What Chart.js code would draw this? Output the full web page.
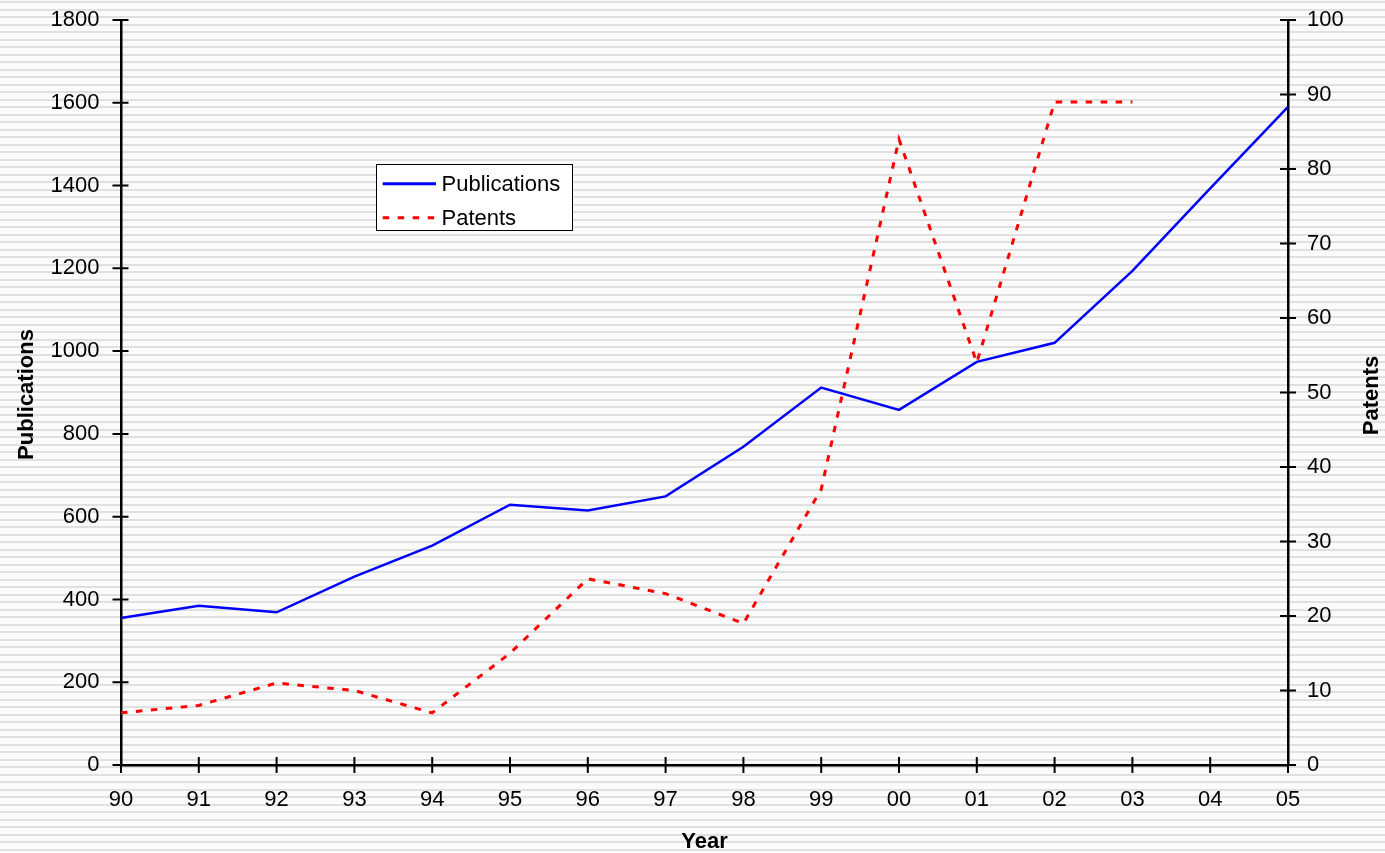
<!DOCTYPE html>
<html>
<head>
<meta charset="utf-8">
<script src="https://cdn.jsdelivr.net/npm/chart.js@4/dist/chart.umd.min.js"></script>
<style>
  html, body {
    margin: 0;
    padding: 0;
    width: 1385px;
    height: 853px;
    overflow: hidden;
    background: repeating-linear-gradient(to bottom,
      #fbfbfb 0px, #fbfbfb 1.3px,
      #e0e0e0 1.3px, #e0e0e0 3.4px,
      #fbfbfb 3.4px, #fbfbfb 7.5px);
  }
  #wrap { position: relative; width: 1385px; height: 853px; }
</style>
</head>
<body>
<div id="wrap"><canvas id="chart"></canvas></div>
<script>
// Yearly counts, 1990 – 2005
const years = ['90', '91', '92', '93', '94', '95', '96', '97', '98', '99', '00', '01', '02', '03', '04', '05'];
const publications = [355, 385, 369, 455, 530, 629, 615, 649, 769, 912, 858, 974, 1020, 1194, 1393, 1590];
const patents = [7, 8, 11, 10, 7, 15, 25, 23, 19, 37, 84, 54, 89, 89, null, null];

// Axis ranges
const pubRange = { min: 0, max: 1800, step: 200 };
const patRange = { min: 0, max: 100, step: 10 };

// Axis titles
const xTitle = 'Year';
const leftTitle = 'Publications';
const rightTitle = 'Patents';

const FONT = '"Liberation Sans", Arial, sans-serif';

// Tick marks that cross the axis line on both sides
const crossTicks = {
  id: 'crossTicks',
  afterDatasetsDraw(chart) {
    const ctx = chart.ctx;
    const { x, yL, yR } = chart.scales;
    ctx.save();
    ctx.strokeStyle = '#000';
    ctx.lineWidth = 2;
    ctx.beginPath();
    x.ticks.forEach((t, i) => {
      const px = x.getPixelForTick(i);
      ctx.moveTo(px, x.top - 8);
      ctx.lineTo(px, x.top + 8);
    });
    yL.ticks.forEach((t, i) => {
      const py = yL.getPixelForTick(i);
      ctx.moveTo(yL.right - 8.5, py);
      ctx.lineTo(yL.right + 7.5, py);
    });
    yR.ticks.forEach((t, i) => {
      const py = yR.getPixelForTick(i);
      ctx.moveTo(yR.left - 8, py);
      ctx.lineTo(yR.left + 8, py);
    });
    ctx.stroke();
    ctx.restore();
  }
};

// Axis titles (the right one reads bottom-to-top like the left one)
const axisTitles = {
  id: 'axisTitles',
  afterDraw(chart) {
    const ctx = chart.ctx;
    const area = chart.chartArea;
    const midY = (area.top + area.bottom) / 2;
    ctx.save();
    ctx.fillStyle = '#000';
    ctx.font = 'bold 22px ' + FONT;
    ctx.textAlign = 'center';
    ctx.textBaseline = 'alphabetic';
    ctx.fillText(xTitle, (area.left + area.right) / 2, 848);

    ctx.save();
    ctx.translate(33, midY + 2);
    ctx.rotate(-Math.PI / 2);
    ctx.fillText(leftTitle, 0, 0);
    ctx.restore();

    ctx.save();
    ctx.translate(1378, midY + 3);
    ctx.rotate(-Math.PI / 2);
    ctx.fillText(rightTitle, 0, 0);
    ctx.restore();
    ctx.restore();
  }
};

// Boxed legend inside the plot
const boxLegend = {
  id: 'boxLegend',
  afterDraw(chart) {
    const ctx = chart.ctx;
    const box = { x: 376.5, y: 164.5, w: 196, h: 66 };
    ctx.save();
    ctx.fillStyle = '#ffffff';
    ctx.fillRect(box.x, box.y, box.w, box.h);
    ctx.strokeStyle = '#000';
    ctx.lineWidth = 1;
    ctx.strokeRect(box.x, box.y, box.w, box.h);
    chart.data.datasets.forEach((ds, i) => {
      const ly = 183.7 + i * 34;
      ctx.beginPath();
      ctx.strokeStyle = ds.borderColor;
      ctx.lineWidth = 3;
      ctx.setLineDash(ds.borderDash || []);
      ctx.moveTo(382.7, ly);
      ctx.lineTo(436, ly);
      ctx.stroke();
      ctx.setLineDash([]);
      ctx.fillStyle = '#000';
      ctx.font = '22px ' + FONT;
      ctx.textAlign = 'left';
      ctx.textBaseline = 'alphabetic';
      ctx.fillText(ds.label, 441.5, ly + 6.8);
    });
    ctx.restore();
  }
};

const tickFont = { family: FONT, size: 22 };
const plainNumber = v => String(v);

// Fixed axis size; label overhang must not push the plot area inward
function fixWidth(w) {
  return s => { s.width = w; s.paddingTop = 0; s.paddingBottom = 0; };
}

new Chart(document.getElementById('chart'), {
  type: 'line',
  data: {
    labels: years,
    datasets: [
      {
        label: 'Publications',
        data: publications,
        yAxisID: 'yL',
        borderColor: '#0000ff',
        borderWidth: 2.5,
        pointRadius: 0,
        tension: 0,
        fill: false,
        order: 1
      },
      {
        label: 'Patents',
        data: patents,
        yAxisID: 'yR',
        borderColor: '#ff0000',
        borderWidth: 3,
        borderDash: [6.5, 8.5],
        pointRadius: 0,
        tension: 0,
        fill: false,
        spanGaps: false,
        order: 0
      }
    ]
  },
  options: {
    responsive: true,
    maintainAspectRatio: false,
    devicePixelRatio: 1,
    animation: false,
    layout: { padding: { top: 20, left: 0, right: 0, bottom: 0 } },
    plugins: {
      legend: { display: false },
      tooltip: { enabled: false },
      title: { display: false }
    },
    scales: {
      x: {
        type: 'category',
        offset: false,
        grid: { display: false, drawTicks: false },
        border: { display: true, color: '#000', width: 2.5 },
        ticks: { font: tickFont, color: '#000', padding: 22, maxRotation: 0, autoSkip: false },
        afterFit(s) { s.height = 88; s.paddingLeft = 0; s.paddingRight = 0; }
      },
      yL: {
        position: 'left',
        min: pubRange.min,
        max: pubRange.max,
        grid: { display: false, drawTicks: false },
        border: { display: true, color: '#000', width: 2.5 },
        ticks: { stepSize: pubRange.step, font: tickFont, color: '#000', padding: 21.5, callback: plainNumber },
        afterFit: fixWidth(121)
      },
      yR: {
        position: 'right',
        min: patRange.min,
        max: patRange.max,
        grid: { display: false, drawTicks: false },
        border: { display: true, color: '#000', width: 2.5 },
        ticks: { stepSize: patRange.step, font: tickFont, color: '#000', padding: 19, callback: plainNumber },
        afterFit: fixWidth(97)
      }
    }
  },
  plugins: [crossTicks, axisTitles, boxLegend]
});
</script>
</body>
</html>
